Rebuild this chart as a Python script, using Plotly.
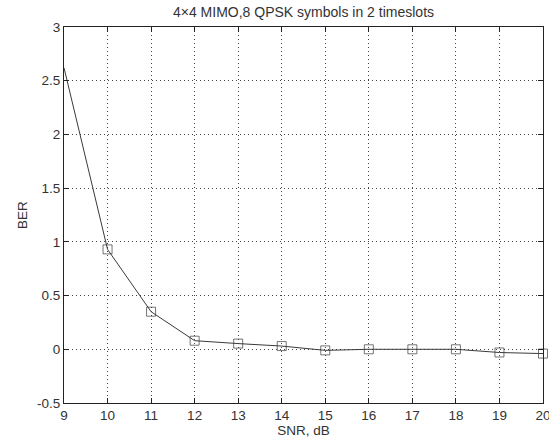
import plotly.graph_objects as go

snr_db = [9, 10, 11, 12, 13, 14, 15, 16, 17, 18, 19, 20]
ber = [2.62, 0.93, 0.35, 0.08, 0.053, 0.03, -0.01, 0.0, 0.0, 0.0, -0.03, -0.04]
x_ticks = list(range(9, 21))
y_ticks = [-0.5, 0, 0.5, 1, 1.5, 2, 2.5, 3]
y_tick_labels = ["-0.5", "0", "0.5", "1", "1.5", "2", "2.5", "3"]

marker_sizes = [0] + [9] * (len(snr_db) - 1)

FONT = "Liberation Sans, Arial"

fig = go.Figure()
fig.add_trace(go.Scatter(
    x=snr_db, y=ber, mode="lines+markers",
    line=dict(color="#3a3a3a", width=1),
    marker=dict(symbol="square-open", size=marker_sizes, color="#3a3a3a",
                line=dict(width=1, color="#3a3a3a")),
    cliponaxis=False, showlegend=False, hoverinfo="skip",
))

axis_common = dict(
    showline=True, linecolor="#222", linewidth=1, mirror="ticks",
    ticks="inside", ticklen=5, tickcolor="#222",
    showgrid=True, gridcolor="#444", griddash="1px,3px", gridwidth=1,
    zeroline=False, automargin=False,
    tickfont=dict(family=FONT, size=13.5, color="#333"),
    title_font=dict(family=FONT, size=13.5, color="#333"),
)

fig.update_layout(
    width=549, height=444,
    margin=dict(l=64, r=6, t=27, b=41),
    paper_bgcolor="white", plot_bgcolor="white",
    title=dict(text="4×4 MIMO,8 QPSK symbols in 2 timeslots",
               x=303.5 / 549, xanchor="center", y=1 - 12 / 444, yanchor="middle",
               font=dict(family=FONT, size=14, color="#333")),
    xaxis=dict(range=[9, 20], tickvals=x_ticks, ticklabeloverflow="allow",
               title=dict(text="SNR, dB", standoff=0), **axis_common),
    yaxis=dict(range=[-0.5, 3], tickvals=y_ticks, ticktext=y_tick_labels,
               title=dict(text="BER", standoff=6), **axis_common),
)

fig.write_html("out.html", config={"displayModeBar": False},
               post_script="document.body.style.margin='0';document.body.style.overflow='hidden';")
